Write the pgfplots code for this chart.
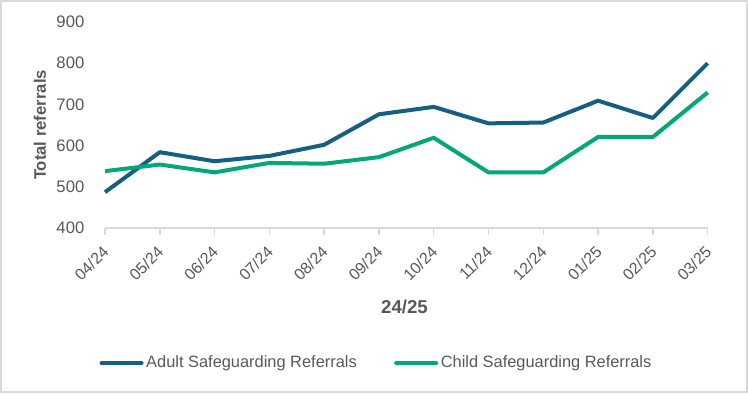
\documentclass[border=0pt]{standalone}
\usepackage{pgfplots}
\pgfplotsset{compat=1.18}
\usepackage{fontspec}
\setmainfont{Liberation Sans}
\definecolor{adult}{HTML}{156082}
\definecolor{child}{HTML}{02A878}
\definecolor{txt}{HTML}{595959}
\definecolor{axl}{HTML}{D9D9D9}
\begin{document}
\begin{tikzpicture}
\draw[axl, line width=1.2pt, fill=white] (0.6pt,0.6pt) rectangle (560.4pt,294.15pt);
\begin{axis}[
  at={(78.75pt,123.75pt)}, anchor=south west,
  scale only axis, width=452pt, height=154.5pt,
  xmin=0, xmax=11, ymin=400, ymax=900,
  ytick={400,500,...,900},
  xtick={0,...,11},
  xticklabels={04/24,05/24,06/24,07/24,08/24,09/24,10/24,11/24,12/24,01/25,02/25,03/25},
  axis y line*=left, axis x line*=bottom,
  y axis line style={draw=none},
  ytick style={draw=none},
  x axis line style={axl, line width=1.1pt, -},
  xtick style={axl, line width=1.1pt},
  major tick length=5pt,
  tick align=outside,
  /pgf/number format/assume math mode=true,
  yticklabel style={font=\fontsize{12.5}{14}\selectfont, text=txt, anchor=east, xshift=-7pt},
  xticklabel style={font=\fontsize{12}{14}\selectfont, text=txt, yshift=-8.5pt, xshift=3pt, rotate=45, anchor=east},
  every axis y label/.style={at={(axis description cs:-0.108,0.5)}, rotate=90, anchor=center},
  ylabel={\bfseries Total referrals},
  ylabel style={font=\fontsize{12.5}{14}\selectfont, text=txt},
  every axis x label/.style={at={(axis description cs:0.497,-0.383)}, anchor=center},
  xlabel={\bfseries 24/25},
  xlabel style={font=\fontsize{14}{16}\selectfont, text=txt},
  legend columns=2,
  legend style={at={(axis description cs:0.451,-0.655)}, anchor=center, draw=none,
    font=\fontsize{12.3}{14}\selectfont, text=txt,
    /tikz/every even column/.append style={column sep=26pt}},
  legend image code/.code={\draw[#1, line width=3pt, line cap=round] (0pt,0pt) -- (30pt,0pt);},
  clip=false,
]
\addplot[adult, line width=3pt, line join=round] coordinates {
(0,487) (1,584) (2,562) (3,575) (4,602) (5,676) (6,694) (7,654) (8,656) (9,709) (10,667) (11,800)};
\addlegendentry{Adult Safeguarding Referrals}
\addplot[child, line width=3pt, line join=round] coordinates {
(0,538) (1,554) (2,535) (3,558) (4,556) (5,572) (6,619) (7,535) (8,535) (9,621) (10,621) (11,729)};
\addlegendentry{Child Safeguarding Referrals}
\end{axis}
\end{tikzpicture}
\end{document}
